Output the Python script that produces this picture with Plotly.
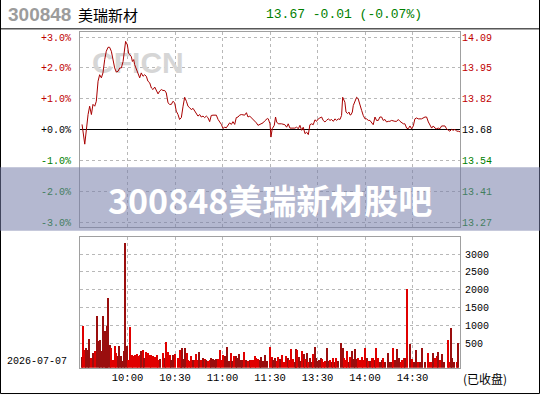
import numpy as np
import plotly.graph_objects as go

# ---------------- data ----------------
PREV_CLOSE = 13.68

# intraday price line: minute index (0 = 9:30, 120 = 11:30/13:00, 240 = 15:00) and % change
px_min = [1.3, 3.0, 5.1, 6.1, 7.2, 8.2, 9.3, 10.3, 11.4, 12.4, 13.5, 14.5, 15.6, 16.6, 17.7, 18.7,
          19.8, 20.8, 21.9, 22.9, 24.0, 25.1, 26.1, 27.2, 28.2, 28.8, 29.9, 30.7, 31.4, 32.4, 33.1,
          33.9, 34.5, 35.6, 36.6, 37.7, 38.7, 39.8, 40.8, 41.9, 42.9, 44.0, 45.1, 46.1, 47.2, 48.2,
          49.3, 50.3, 51.4, 52.4, 53.5, 54.5, 55.6, 56.6, 57.7, 58.7, 59.8, 60.8, 61.9, 62.9, 64.0,
          65.1, 66.1, 67.2, 68.2, 69.3, 70.3, 71.4, 72.4, 73.5, 74.5, 75.6, 76.6, 77.7, 78.7, 79.8,
          80.8, 81.9, 82.9, 84.0, 85.1, 86.1, 87.2, 88.2, 89.3, 90.3, 91.4, 92.4, 93.5, 94.5, 95.6,
          96.6, 97.7, 98.7, 99.8, 100.8, 101.9, 102.9, 104.0, 105.1, 106.1, 107.2, 108.2, 109.3,
          110.3, 111.4, 112.4, 113.5, 114.5, 115.6, 116.6, 118.3,
          118.9, 120.0, 120.6, 121.4, 122.7, 123.5, 124.2, 125.2, 127.3, 129.4, 130.5, 131.5, 132.6,
          133.6, 134.7, 135.7, 136.8, 137.9, 138.9, 140.0, 141.0, 142.1, 143.1, 144.2, 145.2, 146.3,
          147.3, 148.4, 149.4, 150.5, 151.5, 152.6, 153.6, 154.7, 155.7, 156.8, 157.9, 158.9, 160.0,
          161.0, 162.1, 163.1, 164.2, 165.2, 165.9, 166.7, 167.3, 168.0, 169.0, 169.9, 170.5, 171.1,
          172.0, 172.6, 173.6, 174.7, 175.7, 176.8, 177.9, 178.9, 180.0, 181.0, 182.1, 183.1, 184.2,
          185.2, 186.3, 187.3, 188.4, 189.4, 190.5, 191.5, 192.6, 193.6, 194.7, 195.7, 196.8, 197.9,
          198.9, 200.0, 201.0, 202.1, 203.1, 204.2, 205.2, 206.3, 207.3, 208.4, 209.4, 210.5, 211.5,
          212.6, 213.6, 215.7, 217.9, 218.9, 220.0, 221.0, 222.1, 223.1, 224.2, 225.2, 226.3, 227.3,
          228.4, 230.5, 231.5, 232.6, 233.6, 234.7, 235.7, 236.8, 237.9, 238.9, 240.0]
px_pct = [0.17, -0.47, 0.49, 0.76, 0.49, 0.82, 0.76, 0.92, 1.57, 1.78, 1.68, 1.84, 2.27, 2.54, 2.67,
          2.67, 2.54, 2.27, 2.00, 1.87, 1.89, 2.00, 2.00, 2.21, 2.54, 2.86, 2.75, 2.48, 2.43, 2.37,
          2.21, 2.27, 2.11, 1.94, 1.78, 1.68, 1.84, 1.73, 1.78, 1.73, 1.57, 1.52, 1.35, 1.30, 1.38,
          1.25, 1.16, 1.25, 1.30, 1.27, 1.27, 1.19, 0.87, 0.82, 0.82, 0.92, 0.87, 0.60, 0.49, 0.33,
          0.39, 0.76, 1.05, 0.92, 0.76, 0.71, 0.65, 0.69, 0.60, 0.49, 0.44, 0.49, 0.41, 0.44, 0.39,
          0.44, 0.39, 0.26, 0.46, 0.47, 0.47, 0.47, 0.33, 0.26, 0.17, 0.04, 0.08, 0.06, 0.15, 0.22,
          0.17, 0.26, 0.17, 0.39, 0.41, 0.47, 0.49, 0.49, 0.47, 0.55, 0.41, 0.44, 0.39, 0.33, 0.26,
          0.22, 0.14, 0.17, 0.19, 0.22, 0.28, 0.36,
          0.35, 0.19, -0.24, 0.03, 0.14, 0.41, 0.25, 0.19, 0.19, 0.16, 0.08, 0.19, 0.05, 0.05, 0.03,
          0.05, 0.08, 0.03, 0.14, -0.02, 0.08, -0.13, -0.08, -0.16, 0.16, 0.19, 0.16, 0.32, 0.27,
          0.35, 0.38, 0.41, 0.30, 0.25, 0.30, 0.35, 0.30, 0.33, 0.27, 0.35, 0.30, 0.35, 0.33, 0.46,
          1.05, 0.95, 0.89, 0.57, 0.52, 0.57, 0.48, 0.48, 0.57, 0.78, 0.91, 1.05, 1.00, 0.84, 0.62,
          0.46, 0.35, 0.35, 0.30, 0.30, 0.22, 0.16, 0.41, 0.30, 0.30, 0.41, 0.41, 0.30, 0.33, 0.25,
          0.27, 0.27, 0.30, 0.27, 0.27, 0.27, 0.33, 0.27, 0.22, 0.19, 0.19, 0.05, 0.03, 0.12, 0.03,
          0.12, 0.35, 0.38, 0.35, 0.35, 0.41, 0.41, 0.25, 0.14, 0.05, 0.12, 0.05, 0.03, 0.05, 0.03,
          0.12, 0.12, 0.03, -0.02, -0.05, 0.01, -0.02, 0.01, -0.05, -0.05, -0.07]

# per-minute volume bars
vol_min = [1.3, 1.9, 2.9, 4.0, 5.1, 5.7, 6.7, 8.2, 9.3, 10.7, 11.8, 12.6, 13.9, 14.5, 15.6, 16.6,
           17.3, 17.9, 18.7, 19.6, 20.8, 21.9, 22.9, 24.0, 24.8, 25.7, 26.7, 27.8, 28.6, 29.5, 30.3,
           31.6, 33.1, 33.7, 34.9, 35.8, 36.6, 37.7, 38.7, 39.8, 40.6, 41.7, 42.9, 44.0, 45.1, 46.3,
           47.6, 48.6, 49.5, 50.3, 52.4, 53.5, 54.5, 55.6, 56.6, 57.7, 58.7, 59.8, 61.9, 62.9, 63.6,
           64.6, 65.7, 66.5, 67.4, 68.2, 69.3, 70.3, 71.4, 72.4, 73.5, 74.5, 75.4, 76.6, 77.7, 78.7,
           79.8, 80.8, 81.9, 82.9, 84.0, 85.1, 86.1, 87.2, 88.2, 89.3, 90.3, 91.4, 92.8, 94.1, 95.2,
           96.0, 97.3, 98.3, 99.4, 100.4, 101.5, 102.5, 103.6, 105.1, 106.1, 107.2, 108.2, 109.3,
           110.3, 111.4, 112.4, 113.5, 114.5, 115.6, 117.1, 118.1,
           119.7, 121.0, 122.1, 123.1, 124.2, 125.2, 126.3, 127.7, 129.0, 130.1, 131.1, 132.2, 133.0,
           134.7, 135.7, 136.4, 137.2, 138.3, 139.1, 140.4, 141.2, 142.1, 143.1, 144.2, 145.2, 146.3,
           147.3, 148.4, 149.0, 150.1, 150.9, 152.0, 153.0, 153.9, 154.9, 156.0, 156.8, 157.9, 158.9,
           159.7, 161.0, 161.9, 163.1, 164.8, 165.9, 166.9, 168.0, 168.8, 169.9, 170.7, 172.0, 172.8,
           173.6, 174.7, 175.7, 176.8, 177.9, 178.9, 180.0, 181.0, 182.1, 183.1, 184.2, 185.2, 186.3,
           187.1, 188.0, 189.4, 190.5, 191.5, 192.6, 194.7, 195.7, 196.8, 197.9, 198.9, 200.4, 201.4,
           202.5, 203.5, 204.4, 205.2, 206.7, 208.4, 209.4, 210.9, 212.0, 213.6, 214.7, 216.2, 217.9,
           219.5, 221.0, 222.1, 223.1, 224.2, 225.2, 226.3, 227.3, 228.4, 230.1, 232.2, 233.2, 234.3,
           235.1, 236.4, 237.9, 238.9]
vol = [129, 999, 332, 379, 332, 629, 101, 240, 286, 1286, 564, 592, 286, 1286, 869, 240, 999, 1768,
       471, 379, 55, 425, 240, 147, 425, 147, 8, 286, 3314, 444, 36, 981, 175, 166, 194, 212, 166,
       194, 286, 332, 101, 258, 240, 175, 194, 166, 129, 194, 36, 73, 240, 101, 536, 258, 194, 55,
       194, 221, 101, 314, 221, 379, 73, 379, 240, 55, 8, 166, 36, 55, 221, 55, 258, 36, 101, 73,
       55, 8, 55, 101, 73, 55, 73, 73, 332, 55, 194, 166, 406, 8, 240, 8, 147, 166, 101, 221, 36,
       55, 258, 36, 8, 55, 55, 36, 147, 101, 73, 36, 129, 8, 194, 8,
       416, 138, 45, 92, 18, 138, 73, 184, 0, 166, 92, 45, 351, 73, 0, 351, 323, 138, 18, 295, 203,
       73, 231, 0, 92, 0, 203, 397, 92, 18, 45, 110, 73, 0, 18, 369, 18, 45, 0, 110, 0, 110, 18,
       508, 369, 110, 45, 295, 0, 138, 295, 73, 351, 73, 92, 45, 138, 45, 369, 92, 18, 18, 110,
       110, 45, 388, 110, 0, 45, 110, 0, 231, 0, 0, 369, 45, 351, 92, 0, 45, 92, 110, 2036, 481,
       73, 0, 323, 0, 0, 388, 0, 231, 0, 0, 231, 110, 166, 258, 45, 203, 0, 601, 0, 943, 110, 0,
       0, 508]

pct_ticks = [-3, -2, -1, 0, 1, 2, 3]
pct_labels = ["-3.0%", "-2.0%", "-1.0%", "+0.0%", "+1.0%", "+2.0%", "+3.0%"]
price_labels = ["13.27", "13.41", "13.54", "13.68", "13.82", "13.95", "14.09"]
time_ticks = [30, 60, 90, 120, 150, 180, 210]
time_labels = ["10:00", "10:30", "11:00", "11:30", "13:30", "14:00", "14:30"]
vol_ticks = [500, 1000, 1500, 2000, 2500, 3000]
vol_labels = ["500", "1000", "1500", "2000", "2500", "3000"]

# ---------------- layout helpers ----------------
W, H = 540, 400
def PX(x): return x / W
def PY(y): return 1 - y / H

RED, GREEN, BLACK = "#c00000", "#008000", "#000000"
GRID = "#b8b8b8"
FRAME = "#a0a0a0"
MONO = "Liberation Mono"
CJK = "Noto Sans CJK SC"

def tone(v):
    return RED if v > 0 else (GREEN if v < 0 else BLACK)

left_text = [f"<span style='color:{tone(t)}'>{s}</span>" for t, s in zip(pct_ticks, pct_labels)]
right_text = [f"<span style='color:{tone(t)}'>{s}</span>" for t, s in zip(pct_ticks, price_labels)]

VOL_BASE, VOL_TOP = -178, 3481
vol_arr = np.array(vol, dtype=float)
p_now = np.interp(vol_min, px_min, px_pct)
p_prev = np.interp(np.array(vol_min) - 1.0, px_min, px_pct)
bar_colors = ["#9a0e0e" if a >= b else "#e00000" for a, b in zip(p_now, p_prev)]

fig = go.Figure()

# watermark under the line
fig.add_trace(go.Scatter(x=[36.6], y=[2.08], mode="text", text=["<b>CFICN</b>"],
                         textfont=dict(family="Liberation Sans", size=30, color="#d6d6d6"),
                         hoverinfo="skip", showlegend=False, xaxis="x", yaxis="y"))
fig.add_trace(go.Scatter(x=px_min, y=px_pct, mode="lines",
                         line=dict(color="#a80000", width=1), showlegend=False,
                         xaxis="x", yaxis="y"))
fig.add_trace(go.Scatter(x=px_min, y=px_pct, mode="lines", opacity=0,
                         line=dict(width=0), showlegend=False, hoverinfo="skip",
                         xaxis="x", yaxis="y2"))
fig.add_trace(go.Bar(x=vol_min, y=vol_arr - VOL_BASE, base=VOL_BASE, width=0.62,
                     marker=dict(color=bar_colors, line=dict(width=0)),
                     showlegend=False, xaxis="x2", yaxis="y3"))

common_x = dict(range=[0, 240], tickvals=time_ticks, showgrid=True, gridcolor=GRID,
                griddash="dot", gridwidth=1, showline=True, linecolor=FRAME, linewidth=1,
                mirror=True, zeroline=False, ticks="", fixedrange=True)

fig.update_layout(
    width=W, height=H, margin=dict(l=0, r=0, t=0, b=0),
    paper_bgcolor="white", plot_bgcolor="white", bargap=0,
    xaxis=dict(domain=[PX(80), PX(460)], anchor="y", showticklabels=False, **common_x),
    xaxis2=dict(domain=[PX(80), PX(460)], anchor="y3", ticktext=time_labels,
                tickfont=dict(family=MONO, size=10.5, color=BLACK), ticklabelstandoff=0,
                **common_x),
    yaxis=dict(domain=[PY(228), PY(31.7)], range=[-3.15, 3.18], tickvals=pct_ticks,
               ticktext=left_text, tickfont=dict(family=MONO, size=10), ticklabelstandoff=6,
               showgrid=True, gridcolor=GRID, griddash="dot", gridwidth=1,
               zeroline=True, zerolinecolor=BLACK, zerolinewidth=1,
               showline=True, linecolor=FRAME, mirror=True, ticks="", anchor="x"),
    yaxis2=dict(overlaying="y", side="right", anchor="x", range=[-3.15, 3.18],
                tickvals=pct_ticks, ticktext=right_text, tickfont=dict(family=MONO, size=10),
                ticklabelstandoff=1, showgrid=False, zeroline=False, showline=False, ticks=""),
    yaxis3=dict(domain=[PY(369.7), PY(238)], range=[VOL_BASE, VOL_TOP], side="right",
                anchor="x2", tickvals=vol_ticks, ticktext=vol_labels,
                tickfont=dict(family=MONO, size=10, color=BLACK), ticklabelstandoff=2,
                showgrid=True, gridcolor=GRID, griddash="dot", gridwidth=1, zeroline=False,
                showline=True, linecolor=FRAME, mirror=True, ticks=""),
)

def hline(y, x0=0.5, x1=539.5):
    return dict(type="line", xref="paper", yref="paper", x0=PX(x0), x1=PX(x1), y0=PY(y), y1=PY(y),
                line=dict(color=BLACK, width=1), layer="above")

def vline(x, y0=0.0, y1=395.5):
    return dict(type="line", xref="paper", yref="paper", x0=PX(x), x1=PX(x), y0=PY(y0), y1=PY(y1),
                line=dict(color=BLACK, width=1), layer="above")

shapes = [
    vline(0.5), vline(539.5), hline(395.5), hline(29),
    dict(type="rect", xref="paper", yref="paper", x0=0, x1=1, y0=PY(232), y1=PY(168),
         line=dict(width=0), fillcolor="rgba(118,126,170,0.55)", layer="above"),
]
fig.update_layout(shapes=shapes)

ann = [
    dict(text="<b>300848</b>", x=PX(6), y=PY(15), font=dict(family="Liberation Sans", size=19, color="#9c9c9c")),
    dict(text="美瑞新材", x=PX(76), y=PY(15), font=dict(family=CJK, size=15, color=BLACK)),
    dict(text="13.67 -0.01 (-0.07%)", x=PX(264), y=PY(15), font=dict(family=MONO, size=13, color=GREEN)),
    dict(text="2026-07-07", x=PX(5), y=PY(363), font=dict(family=MONO, size=10, color=BLACK)),
    dict(text="(已收盘)", x=PX(461), y=PY(380), font=dict(family=CJK, size=12, color=BLACK)),
]
for a in ann:
    fig.add_annotation(xref="paper", yref="paper", xanchor="left", yanchor="middle",
                       showarrow=False, **a)
fig.add_annotation(xref="paper", yref="paper", x=0.5, y=PY(201), xanchor="center",
                   yanchor="middle", showarrow=False, text="<b>300848美瑞新材股吧</b>",
                   font=dict(family=CJK, size=34, color="white"))

fig.write_html("out.html")
